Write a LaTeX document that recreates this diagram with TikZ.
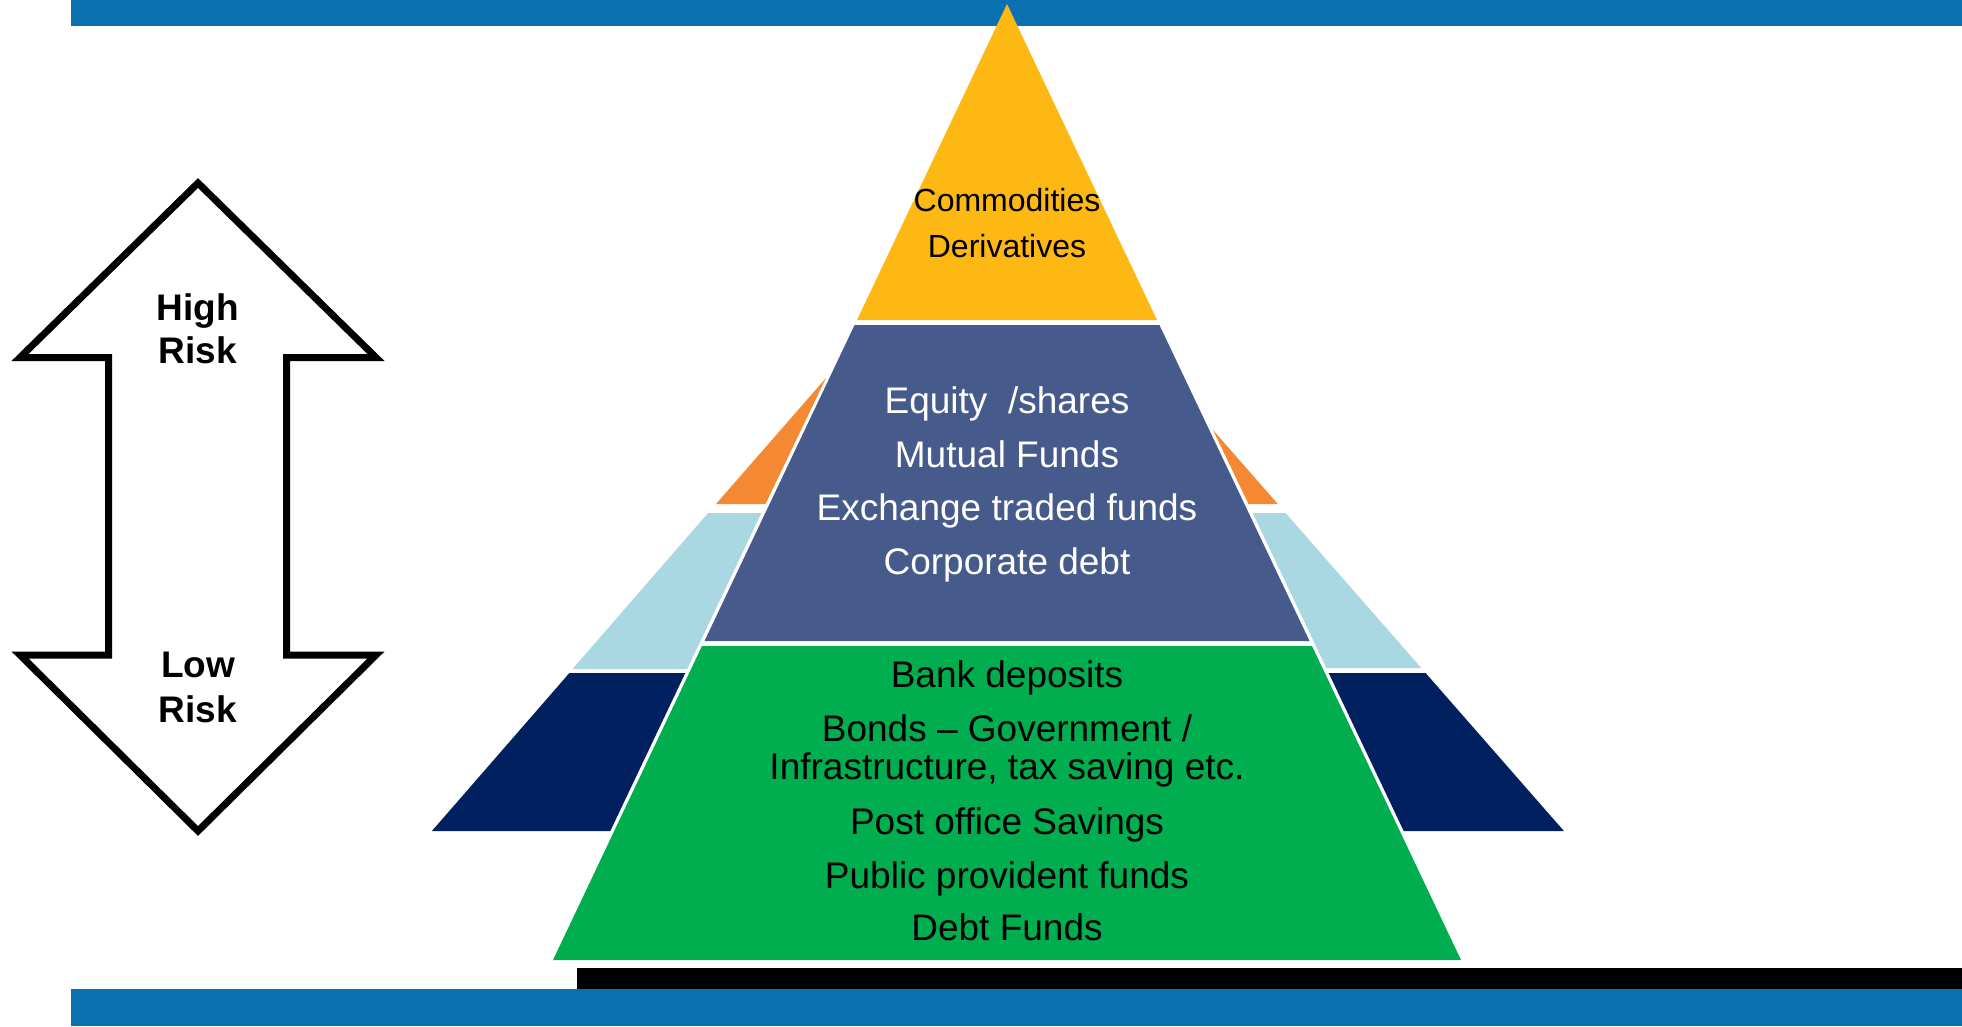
\documentclass[tikz,border=0pt]{standalone}
\usepackage{fontspec}
\setmainfont{Liberation Sans}
\definecolor{barblue}{HTML}{0A70B0}
\definecolor{topyellow}{HTML}{FDB813}
\definecolor{slate}{HTML}{475A8C}
\definecolor{pgreen}{HTML}{00AE50}
\definecolor{porange}{HTML}{F58833}
\definecolor{lblue}{HTML}{AAD8E2}
\definecolor{pnavy}{HTML}{00205F}
\begin{document}
\begin{tikzpicture}[x=1pt,y=-1pt,
  big/.style={font=\fontsize{37}{44}\selectfont, inner sep=0pt, anchor=base},
  small/.style={font=\fontsize{32}{38}\selectfont, inner sep=0pt, anchor=base},
  risk/.style={font=\fontsize{37}{44}\selectfont\bfseries, inner sep=0pt, anchor=base},
  outline/.style={draw=black, line width=7pt, line join=miter, fill=white}]
\useasboundingbox (0,0) rectangle (1962,1026);
% bars
\fill[barblue] (71,0) rectangle (1962,26);
\fill[barblue] (71,989) rectangle (1962,1026);
\fill[black] (577,968) rectangle (1962,989);
% side pieces, left
\fill[porange] (826,378) -- (716,504) -- (765.5,504) -- cycle;
\fill[lblue] (708.1,513) -- (761.3,513) -- (687.2,669) -- (572.5,669) -- cycle;
\fill[pnavy] (569.4,673) -- (685.3,673) -- (610.3,831) -- (431.9,831) -- cycle;
% side pieces, right
\fill[porange] (1213,430) -- (1277.8,504) -- (1248.5,504) -- cycle;
\fill[lblue] (1252.7,513) -- (1285.6,513) -- (1421.3,668) -- (1326.3,668) -- cycle;
\fill[pnavy] (1328.7,673) -- (1425.6,673) -- (1563.9,831) -- (1403.7,831) -- cycle;
% main pyramid
\fill[topyellow] (1007,4) -- (1157,320) -- (857,320) -- cycle;
\fill[slate] (854.6,325) -- (1159.4,325) -- (1309.5,641) -- (704.5,641) -- cycle;
\fill[pgreen] (702,646) -- (1312,646) -- (1461,960) -- (553,960) -- cycle;
% texts in pyramid (baselines)
\node[small] (t1) at (1007,211.5) {Commodities};
\node[small] (t2) at (1007,257.5) {Derivatives};
\node[big,text=white] (m1) at (1007,413.5) {Equity\ \ /shares};
\node[big,text=white] (m2) at (1007,467.5) {Mutual Funds};
\node[big,text=white] (m3) at (1007,520.5) {Exchange traded funds};
\node[big,text=white] (m4) at (1007,574.5) {Corporate debt};
\node[big] (b1) at (1007,687.5) {Bank deposits};
\node[big] (b2) at (1007,741.5) {Bonds – Government /};
\node[big] (b3) at (1007,779.5) {Infrastructure, tax saving etc.};
\node[big] (b4) at (1007,834.5) {Post office Savings};
\node[big] (b5) at (1007,888.5) {Public provident funds};
\node[big] (b6) at (1007,940.5) {Debt Funds};
% double arrow
\draw[outline] (198,183) -- (20,357.5) -- (108.5,357.5) -- (108.5,655) -- (20,655)
  -- (198,831) -- (376,655) -- (286.5,655) -- (286.5,357.5) -- (376,357.5) -- cycle;
\node[risk] (h1) at (198,320.5) {High};
\node[risk] (h2) at (198,363.5) {Risk};
\node[risk] (l1) at (198,677.5) {Low};
\node[risk] (l2) at (198,722.5) {Risk};
\end{tikzpicture}
\end{document}
